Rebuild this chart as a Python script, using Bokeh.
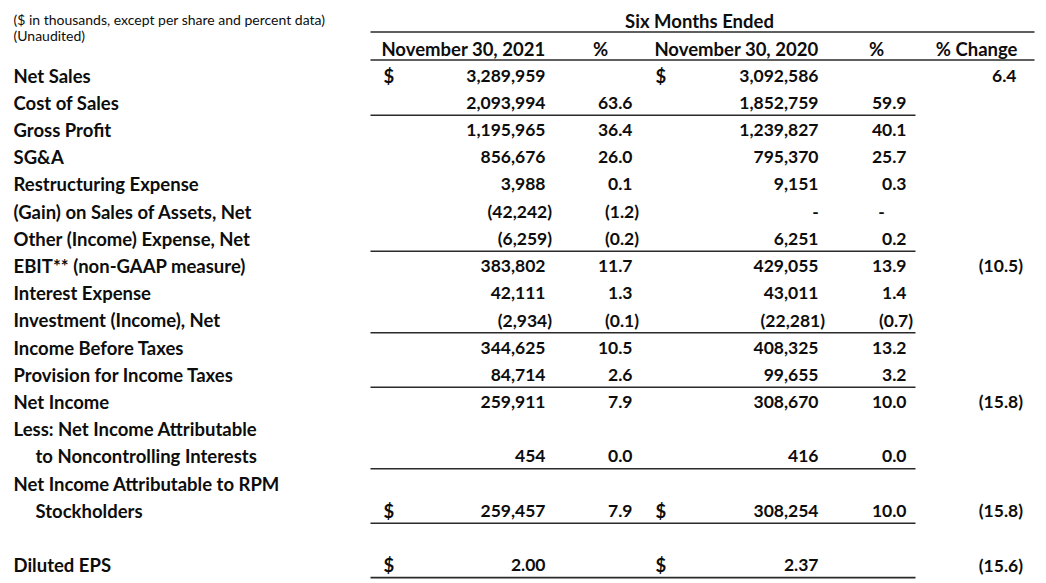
from bokeh.plotting import figure
from bokeh.models import Range1d, ColumnDataSource
from bokeh.core.properties import value
from bokeh.embed import file_html
from bokeh.resources import INLINE

# ---------------- data ----------------
labels = [
    "Net Sales", "Cost of Sales", "Gross Profit", "SG&A", "Restructuring Expense",
    "(Gain) on Sales of Assets, Net", "Other (Income) Expense, Net",
    "EBIT** (non-GAAP measure)", "Interest Expense", "Investment (Income), Net",
    "Income Before Taxes", "Provision for Income Taxes", "Net Income",
    "Less: Net Income Attributable", "to Noncontrolling Interests",
    "Net Income Attributable to RPM", "Stockholders", "", "Diluted EPS",
]
indented = [14, 16]
val_2021 = [3289959, 2093994, 1195965, 856676, 3988, -42242, -6259, 383802, 42111,
            -2934, 344625, 84714, 259911, None, 454, None, 259457, None, 2.00]
pct_2021 = [None, 63.6, 36.4, 26.0, 0.1, -1.2, -0.2, 11.7, 1.3, -0.1, 10.5, 2.6,
            7.9, None, 0.0, None, 7.9, None, None]
val_2020 = [3092586, 1852759, 1239827, 795370, 9151, "-", 6251, 429055, 43011,
            -22281, 408325, 99655, 308670, None, 416, None, 308254, None, 2.37]
pct_2020 = [None, 59.9, 40.1, 25.7, 0.3, "-", 0.2, 13.9, 1.4, -0.7, 13.2, 3.2,
            10.0, None, 0.0, None, 10.0, None, None]
pct_change = [6.4, None, None, None, None, None, None, -10.5, None, None, None, None,
              -15.8, None, None, None, -15.8, None, -15.6]
dollar_rows = [0, 16, 18]
eps_rows = [18]
rule_after = [1, 6, 9, 11, 14, 16, 18]

header_note = ["($ in thousands, except per share and percent data)", "(Unaudited)"]
period_title = "Six Months Ended"
col_headers = ["November 30, 2021", "%", "November 30, 2020", "%", "% Change"]

# ---------------- layout ----------------
FONT = value("Lato")
SIZE = "18.5px"
NSIZE = "17.5px"
COLOR = "#0d0d0d"
ROW0, DY = 75, 27.2
PAREN = 6.5
W, H = 1040, 580

def row_y(i):
    return ROW0 + DY * i

def fmt(v, kind, i):
    if v is None:
        return None
    if v == "-":
        return "-"
    if kind == "money":
        s = f"{abs(v):,.2f}" if i in eps_rows else f"{abs(v):,.0f}"
    else:
        s = f"{abs(v):.1f}"
    return f"({s})" if v < 0 else s

p = figure(width=W, height=H, output_backend="svg", toolbar_location=None,
           x_range=Range1d(0, W), y_range=Range1d(H, 0),
           min_border=0, min_border_left=0, min_border_right=0,
           min_border_top=0, min_border_bottom=0)
p.axis.visible = False
p.grid.visible = False
p.outline_line_color = None
p.background_fill_color = "white"
p.border_fill_color = "white"

# horizontal rules
sx0 = [370, 370] + [370] * len(rule_after)
sx1 = [1034, 1034] + [915] * len(rule_after)
sy = [31.5, 59.5] + [row_y(i) + 12.5 for i in rule_after]
p.segment(x0=sx0, y0=sy, x1=sx1, y1=sy, line_color="#2a2a2a", line_width=1.6)

# header note
p.text(x=[13, 13], y=[19, 35], text=header_note, text_font=FONT, text_font_size="14px",
       text_color=COLOR, text_baseline="middle", text_align="left")
p.text(x=[699], y=[20], text=[period_title], text_font=FONT, text_font_style="bold",
       text_font_size=SIZE, text_color=COLOR, text_baseline="middle", text_align="center")
p.text(x=[545, 600, 818, 876, 1017], y=[48] * 5, text=col_headers,
       text_align=["right", "center", "right", "center", "right"],
       text_font=FONT, text_font_style="bold", text_font_size=SIZE, text_color=COLOR,
       text_baseline="middle")

# row labels
lx = [35 if i in indented else 13 for i in range(len(labels))]
ly = [row_y(i) for i in range(len(labels))]
p.text(x=lx, y=ly, text=labels, text_font=FONT, text_font_style="bold",
       text_font_size=SIZE, text_color=COLOR, text_baseline="middle", text_align="left")

# dollar signs
dxs, dys = [], []
for i in dollar_rows:
    dxs += [383, 655]
    dys += [row_y(i), row_y(i)]
p.text(x=dxs, y=dys, text=["$"] * len(dxs), text_font=FONT, text_font_style="bold",
       text_font_size=SIZE, text_color=COLOR, text_baseline="middle", text_align="left")

# numeric columns: (values, kind, right edge, dash x)
cols = [(val_2021, "money", 545, 535), (pct_2021, "pct", 632, 622),
        (val_2020, "money", 818, 815), (pct_2020, "pct", 906, 881),
        (pct_change, "pct", 1016, 1005)]
xs, ys, ts, al = [], [], [], []
for vals, kind, right, dash_x in cols:
    for i, v in enumerate(vals):
        s = fmt(v, kind, i)
        if s is None:
            continue
        if s == "-":
            xs.append(dash_x); al.append("center")
        elif s.startswith("("):
            xs.append(right + PAREN); al.append("right")
        else:
            xs.append(right); al.append("right")
        ys.append(row_y(i)); ts.append(s)
src = ColumnDataSource(dict(x=xs, y=ys, t=ts, a=al))
p.text(x="x", y="y", text="t", text_align="a", source=src, text_font=FONT,
       text_font_style="bold", text_font_size=NSIZE, text_color=COLOR,
       text_baseline="middle")

open("out.html", "w").write(file_html(p, INLINE))
